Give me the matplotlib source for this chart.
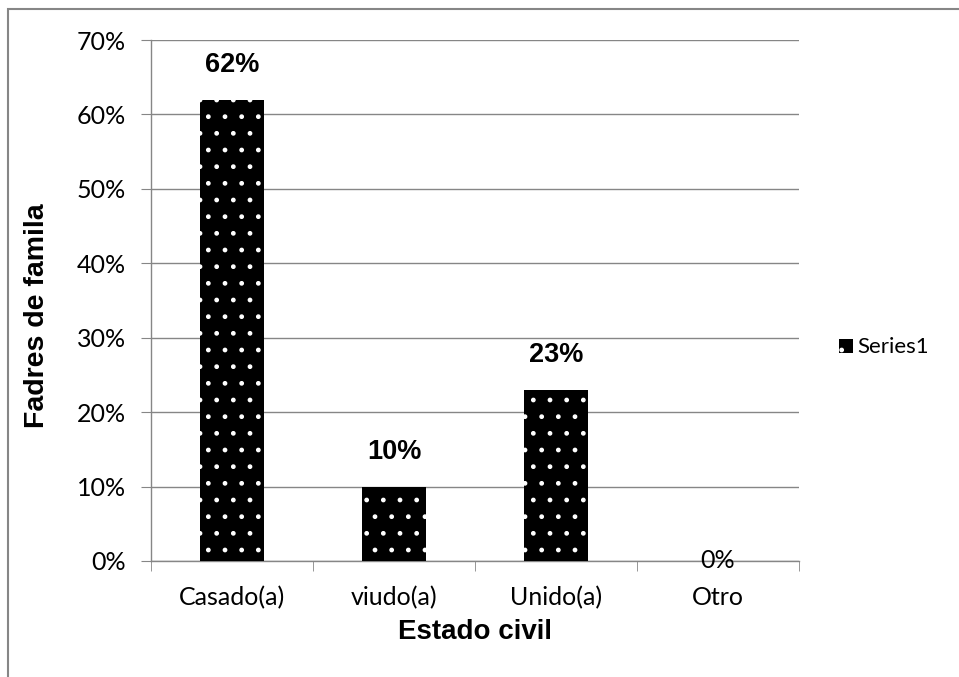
import matplotlib.pyplot as plt
from matplotlib.patches import Rectangle
from matplotlib.ticker import PercentFormatter

categories = ["Casado(a)", "viudo(a)", "Unido(a)", "Otro"]
values = [62, 10, 23, 0]
labels = ["62%", "10%", "23%", "0%"]
yticks = [0, 10, 20, 30, 40, 50, 60, 70]

body_font = ["Lato", "DejaVu Sans"]
bold_font = ["Liberation Sans", "DejaVu Sans"]

plt.rcParams["hatch.linewidth"] = 1.0

fig = plt.figure(figsize=(9.59, 6.77), dpi=100)
ax = fig.add_axes([151 / 959, 1 - 561 / 677, 648 / 959, 521 / 677])

# outer chart border (gray frame, cut off at right and bottom)
fig.patches.append(Rectangle((8 / 959, -0.05), 1.2, 1.05 - 9 / 677,
                             transform=fig.transFigure, fill=False,
                             edgecolor="#868686", linewidth=1.5))

x = range(len(categories))
bars = ax.bar(x, values, width=0.4, color="black", edgecolor="white",
              linewidth=0, hatch=".", label="Series1", zorder=3)

for i, (v, lab) in enumerate(zip(values, labels)):
    if v > 0:
        ax.annotate(lab, (i, v), xytext=(0, 22), textcoords="offset pixels",
                    ha="center", va="bottom", fontsize=19.5, fontweight="bold",
                    family=bold_font)
    else:
        ax.text(i, v, lab, ha="center", va="center", fontsize=18,
                family=body_font, zorder=5)

ax.set_xlim(-0.5, len(categories) - 0.5)
ax.set_ylim(0, 70)
ax.set_yticks(yticks)
ax.yaxis.set_major_formatter(PercentFormatter(decimals=0))
ax.set_xticks(list(x))
ax.set_xticklabels(categories, family=body_font, fontsize=18)
for t in ax.get_yticklabels():
    t.set_family(body_font)
    t.set_fontsize(18)

ax.set_xticks([i - 0.5 for i in range(len(categories) + 1)], minor=True)
ax.tick_params(axis="x", which="major", length=0, pad=18)
ax.tick_params(axis="x", which="minor", length=7, color="#868686",
               direction="out")
ax.tick_params(axis="y", length=7, color="#868686", pad=11)

ax.grid(axis="y", color="#868686", linewidth=1)
ax.set_axisbelow(True)
for side in ["top", "right"]:
    ax.spines[side].set_visible(False)
for side in ["left", "bottom"]:
    ax.spines[side].set_color("#868686")
    ax.spines[side].set_linewidth(1)

ax.set_ylabel("Fadres de famila", fontsize=20.5, fontweight="bold",
              family=bold_font)
ax.yaxis.set_label_coords(-0.156, 0.47)
ax.set_xlabel("Estado civil", fontsize=20, fontweight="bold",
              family=bold_font, labelpad=7)

leg = ax.legend(loc="center left", bbox_to_anchor=(1.062, 0.41), frameon=False,
                prop={"family": body_font, "size": 16}, handlelength=0.6,
                handleheight=0.6, handletextpad=0.2, borderaxespad=0,
                borderpad=0)

fig.savefig("out.png", dpi=100)
